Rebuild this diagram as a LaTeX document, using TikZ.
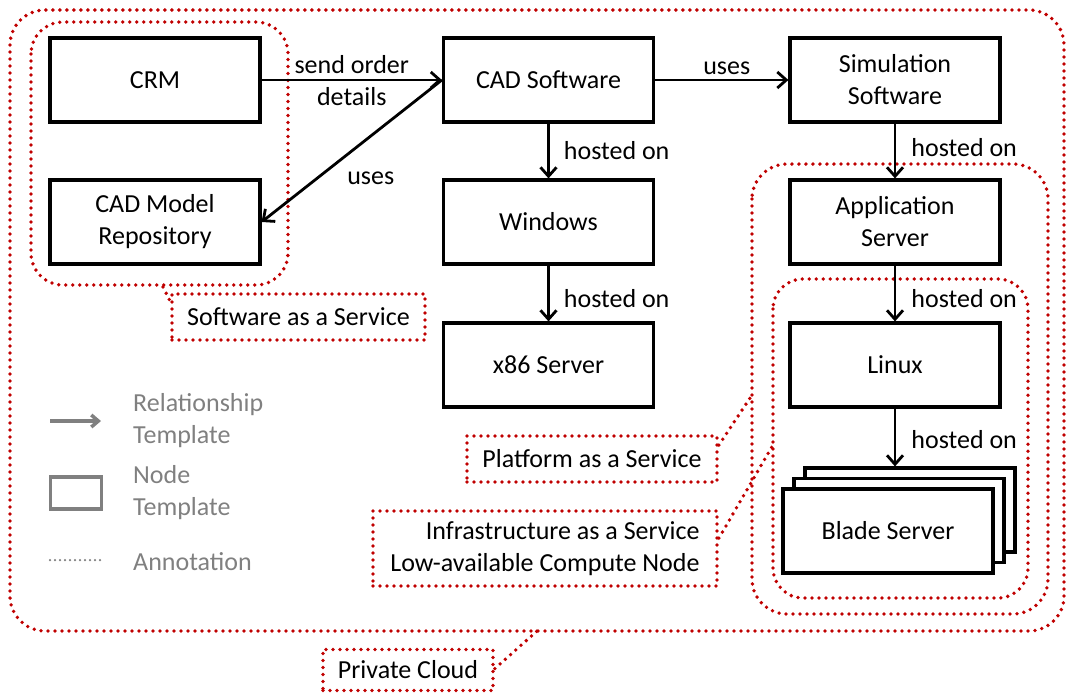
\documentclass[tikz,border=0pt]{standalone}
\usepackage{fontspec}
\setmainfont{Carlito}
\usetikzlibrary{arrows.meta}
\definecolor{annot}{RGB}{192,0,0}
\definecolor{legendgray}{RGB}{128,128,128}
\begin{document}
\begin{tikzpicture}[x=1pt,y=-1pt,
  font=\fontsize{26}{32}\selectfont,
  tmpl/.style={draw=black, line width=3.2pt, fill=white, minimum width=210pt, minimum height=84pt, align=center, inner sep=2pt},
  rel/.style={draw=black, line width=2.8pt, -{Straight Barb[length=9pt,width=16pt]}},
  annotline/.style={draw=annot, line width=3.8pt, line cap=round, dash pattern=on 0pt off 7pt},
  annotbox/.style={annotline, inner sep=0pt, align=center},
  lbl/.style={inner sep=0pt},
  leg/.style={text=legendgray, inner sep=0pt, align=left, anchor=west},
]
\useasboundingbox (0,0) rectangle (1068,693);

% annotation regions
\draw[annotline, rounded corners=35pt] (10,10) rectangle (1064,631);
\draw[annotline, rounded corners=32pt] (31,22) rectangle (288,285);
\draw[annotline, rounded corners=35pt] (752,164) rectangle (1048,614);
\draw[annotline, rounded corners=30pt] (773,279) rectangle (1028,598);

% annotation labels
\node[annotbox, minimum width=253pt, minimum height=46pt] (saasl) at (298.5,317) {Software as a Service};
\node[annotbox, minimum width=250pt, minimum height=46pt] (paasl) at (592,459) {Platform as a Service};
\node[annotbox, minimum width=344pt, minimum height=75pt, align=right] (iaasl) at (545,548.5) {Infrastructure as a Service\\Low-available Compute Node};
\node[annotbox, minimum width=170pt, minimum height=41pt] (pcl) at (408,670) {Private Cloud};

\coordinate (saasc) at (163,287);
\coordinate (paasc) at (752,395);
\coordinate (iaasc) at (773,445);
\coordinate (pcc) at (537,631);
\draw[annotline] (saasc) -- ([yshift=-9pt]saasl.north west);
\draw[annotline] ([yshift=-11pt]paasl.north east) -- (paasc);
\draw[annotline] ([yshift=-29pt]iaasl.north east) -- (iaasc);
\draw[annotline] ([yshift=-21pt]pcl.north east) -- (pcc);

% node templates
\node[tmpl] (crm) at (155,80) {CRM};
\node[tmpl] (repo) at (155,222) {CAD Model\\Repository};
\node[tmpl] (cad) at (548.5,80) {CAD Software};
\node[tmpl] (win) at (548.5,222) {Windows};
\node[tmpl] (x86) at (548.5,365) {x86 Server};
\node[tmpl] (sim) at (895,80) {Simulation\\Software};
\node[tmpl] (app) at (895,222) {Application\\Server};
\node[tmpl] (linux) at (895,365) {Linux};
\node[tmpl] (blade3) at (910,510) {};
\node[tmpl] (blade2) at (899,520.5) {};
\node[tmpl] (blade) at (888,531) {Blade Server};

% relationships
\draw[rel] (crm.east) -- (cad.west) node[midway, lbl, align=center, yshift=-1pt] {send order\\details};
\draw[rel] (cad.west) -- (repo.east) node[midway, lbl, xshift=19pt, yshift=-27pt] {uses};
\draw[rel] (cad.east) -- (sim.west) node[midway, lbl, xshift=5pt, yshift=12pt] {uses};
\draw[rel] (cad.south) -- (win.north) node[midway, lbl, anchor=west, xshift=14pt] {hosted on};
\draw[rel] (win.south) -- (x86.north) node[midway, lbl, anchor=west, xshift=14pt, yshift=-5pt] {hosted on};
\draw[rel] (sim.south) -- (app.north) node[midway, lbl, anchor=west, xshift=15pt, yshift=3pt] {hosted on};
\draw[rel] (app.south) -- (linux.north) node[midway, lbl, anchor=west, xshift=15pt, yshift=-5pt] {hosted on};
\draw[rel] (linux.south) -- (linux.south |- blade3.north) node[midway, lbl, anchor=west, xshift=15pt, yshift=-2pt] {hosted on};

% legend
\coordinate (legA) at (50,421);
\coordinate (legB) at (101,421);
\draw[line width=3.5pt, draw=legendgray, -{Straight Barb[length=7pt,width=12pt]}] (legA) -- (legB);
\node[draw=legendgray, line width=3.5pt, minimum width=51pt, minimum height=32pt, inner sep=0pt] (legnode) at (76,493) {};
\coordinate (legC) at (50,560);
\coordinate (legD) at (100,560);
\draw[draw=legendgray, line width=2.5pt, line cap=round, dash pattern=on 0pt off 5pt] (legC) -- (legD);
\node[leg] (legt1) at (133,421) {Relationship\\Template};
\node[leg] (legt2) at (133,493) {Node\\Template};
\node[leg] (legt3) at (133,562) {Annotation};
\end{tikzpicture}
\end{document}
